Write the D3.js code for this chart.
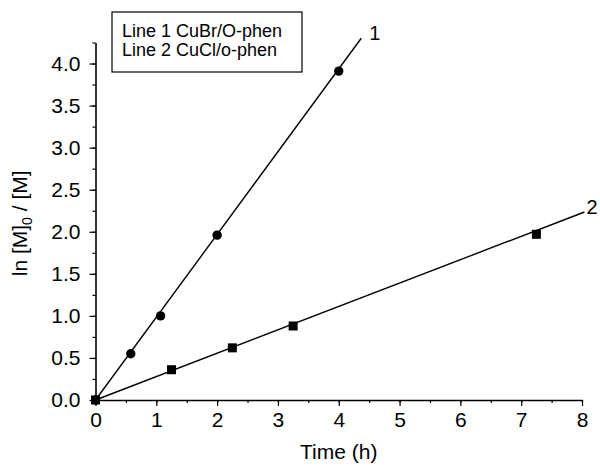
<!DOCTYPE html>
<html lang="en">
<head>
    <meta charset="UTF-8">
    <title>ln [M]0/[M] vs time</title>
    <script src="https://d3js.org/d3.v7.min.js"></script>
    <style>
        body { margin: 0; background: #fff; }
        svg { display: block; font-family: "Liberation Sans", Arial, sans-serif; }
        .axis path, .axis line { stroke: #000; }
        .axis text { font-size: 21px; fill: #000; }
    </style>
</head>
<body>
    <svg id="chart" width="600" height="467"></svg>
    <script>
        // points
        const line1Time = [0, 0.58, 1.07, 2.0, 4.0];
        const line1Value = [0, 0.55, 1.0, 1.96, 3.91];
        const line2Time = [0, 1.25, 2.25, 3.25, 7.25];
        const line2Value = [0, 0.36, 0.62, 0.88, 1.97];
        // fitted lines through origin: slope and where they stop
        const fitSlopes = [0.984, 0.278];
        const fitEnds = [4.37, 8.04];
        const lineLabels = ["1", "2"];
        const legendLines = ["Line 1 CuBr/O-phen", "Line 2 CuCl/o-phen"];
        const xTicks = [0, 1, 2, 3, 4, 5, 6, 7, 8];
        const yTicks = [0, 0.5, 1, 1.5, 2, 2.5, 3, 3.5, 4];

        const svg = d3.select("#chart");
        const x = d3.scaleLinear().domain([0, 8]).range([95.5, 582]);
        const y = d3.scaleLinear().domain([0, 4.25]).range([400, 42.5]);

        // minor ticks first
        svg.append("g")
            .attr("class", "axis")
            .attr("transform", "translate(0,400)")
            .call(d3.axisBottom(x).tickValues(d3.range(0, 8.01, 0.5)).tickSize(3).tickFormat(""))
            .call(g => g.select(".domain").remove());
        svg.append("g")
            .attr("class", "axis")
            .attr("transform", "translate(95.5,0)")
            .call(d3.axisLeft(y).tickValues(d3.range(0, 4.26, 0.25)).tickSize(3).tickFormat(""))
            .call(g => g.select(".domain").remove());

        svg.append("g")
            .attr("class", "axis")
            .attr("transform", "translate(0,400)")
            .call(d3.axisBottom(x).tickValues(xTicks).tickSize(6).tickSizeOuter(0).tickPadding(6).tickFormat(d3.format("d")));
        svg.append("g")
            .attr("class", "axis")
            .attr("transform", "translate(95.5,0)")
            .call(d3.axisLeft(y).tickValues(yTicks).tickSize(6).tickSizeOuter(0).tickPadding(9).tickFormat(d3.format(".1f")));
        svg.selectAll(".axis .domain").attr("stroke-width", 1.6);
        svg.selectAll(".axis line").attr("stroke-width", 1.2);

        // axis titles
        svg.append("text")
            .attr("x", (x(0) + x(8)) / 2)
            .attr("y", 459)
            .attr("text-anchor", "middle")
            .attr("font-size", 21)
            .text("Time (h)");

        const yTitle = svg.append("text")
            .attr("transform", `translate(27,${y(2.1)}) rotate(-90)`)
            .attr("text-anchor", "middle")
            .attr("font-size", 21);
        yTitle.append("tspan").text("ln [M]");
        yTitle.append("tspan").attr("font-size", 14).attr("dy", 5).text("0");
        yTitle.append("tspan").attr("dy", -5).text(" / [M]");

        // fitted lines
        const labelDx = [8, 2];
        fitSlopes.forEach((m, i) => {
            svg.append("line")
                .attr("x1", x(0)).attr("y1", y(0))
                .attr("x2", x(fitEnds[i])).attr("y2", y(m * fitEnds[i]))
                .attr("stroke", "#000")
                .attr("stroke-width", 1.4);
            svg.append("text")
                .attr("x", x(fitEnds[i]) + labelDx[i])
                .attr("y", y(m * fitEnds[i]) + 2)
                .attr("font-size", 20)
                .text(lineLabels[i]);
        });

        // data points
        svg.selectAll(".pt1")
            .data(line1Time.map((t, i) => [t, line1Value[i]]))
            .join("circle")
            .attr("class", "pt1")
            .attr("cx", d => x(d[0]))
            .attr("cy", d => y(d[1]))
            .attr("r", 4.7)
            .attr("fill", "#000");

        svg.selectAll(".pt2")
            .data(line2Time.map((t, i) => [t, line2Value[i]]))
            .join("rect")
            .attr("class", "pt2")
            .attr("x", d => x(d[0]) - 4.5)
            .attr("y", d => y(d[1]) - 4.5)
            .attr("width", 9)
            .attr("height", 9)
            .attr("fill", "#000");

        // legend box
        svg.append("rect")
            .attr("x", 112).attr("y", 12)
            .attr("width", 190).attr("height", 60)
            .attr("fill", "#fff")
            .attr("stroke", "#000")
            .attr("stroke-width", 1.2);
        legendLines.forEach((t, i) => {
            svg.append("text")
                .attr("x", 122)
                .attr("y", 37 + i * 19)
                .attr("font-size", 18)
                .text(t);
        });
    </script>
</body>
</html>
